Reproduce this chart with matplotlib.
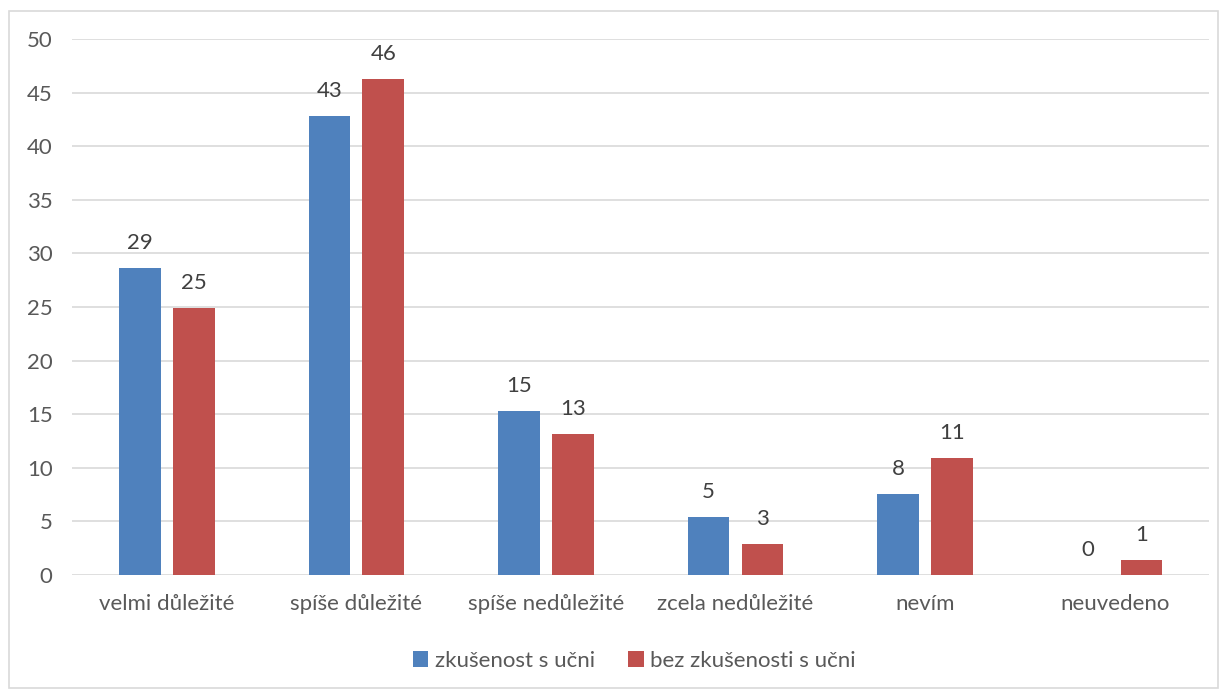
import matplotlib.pyplot as plt
import numpy as np
from matplotlib.patches import Rectangle

categories = ['velmi důležité', 'spíše důležité', 'spíše nedůležité',
              'zcela nedůležité', 'nevím', 'neuvedeno']
zkusenost = [28.6, 42.8, 15.3, 5.4, 7.6, 0.0]
bez_zkusenosti = [24.9, 46.3, 13.2, 2.9, 10.9, 1.4]
series_names = ['zkušenost s učni', 'bez zkušenosti s učni']
yticks = [0, 5, 10, 15, 20, 25, 30, 35, 40, 45, 50]

plt.rcParams['font.family'] = ['Lato', 'DejaVu Sans']
text_color = '#595959'
fs = 16

fig = plt.figure(figsize=(12.27, 6.92), dpi=100)
fig.patches.append(Rectangle((0.007, 0.006), 0.986, 0.978, transform=fig.transFigure,
                             fill=False, edgecolor='#d9d9d9', lw=1.2))
ax = fig.add_axes([0.0587, 0.169, 0.927, 0.7745])

x = np.arange(len(categories))
w = 0.22
off = 0.142
b1 = ax.bar(x - off, zkusenost, w, color='#4f81bd', label=series_names[0], zorder=3)
b2 = ax.bar(x + off, bez_zkusenosti, w, color='#c0504d', label=series_names[1], zorder=3)

for bars in (b1, b2):
    for r in bars:
        h = r.get_height()
        ax.text(r.get_x() + r.get_width() / 2, h + 1.4, f'{h:.0f}', ha='center', va='bottom',
                fontsize=fs, color='#404040')

ax.set_xlim(-0.5, len(categories) - 0.5)
ax.set_ylim(0, 50)
ax.set_yticks(yticks)
ax.set_xticks(x)
ax.set_xticklabels(categories)
ax.tick_params(axis='both', length=0, labelsize=fs, colors=text_color)
ax.tick_params(axis='x', pad=14)
ax.tick_params(axis='y', pad=14)
ax.yaxis.grid(True, color='#d9d9d9', lw=1.2, zorder=0)
for s in ax.spines.values():
    s.set_visible(False)

fig.legend(handles=[b1, b2], loc='center', bbox_to_anchor=(0.517, 0.045), ncol=2, frameon=False,
           fontsize=fs, labelcolor=text_color, handlelength=0.7, handleheight=0.7,
           handletextpad=0.3, columnspacing=1.5)

fig.savefig('out.png', dpi=100)
